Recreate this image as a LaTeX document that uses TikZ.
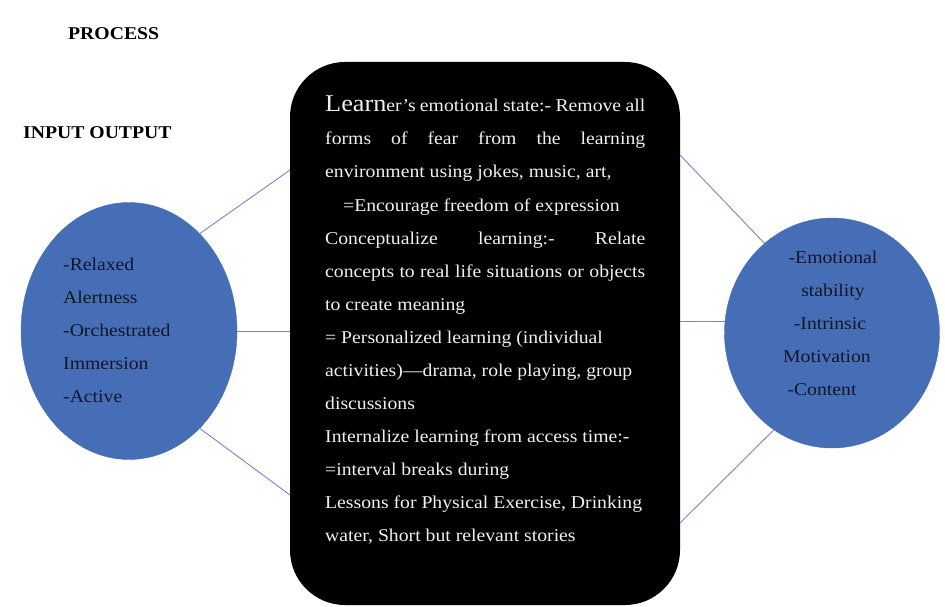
\documentclass[tikz,border=0pt]{standalone}
\usepackage{fontspec}
\setmainfont[FakeStretch=1.095]{Liberation Serif}
\usetikzlibrary{shapes.geometric}
\definecolor{ellblue}{RGB}{70,110,183}
\definecolor{linkcol}{RGB}{125,128,205}
\definecolor{bodytext}{RGB}{240,240,240}
\definecolor{elltext}{RGB}{20,22,40}
\newcommand{\bodyfont}{\fontsize{18}{20}\selectfont}
\newcommand{\bigL}{\fontsize{24}{24}\selectfont}
\newcommand{\jline}[1]{\makebox[320pt][s]{#1}}
\begin{document}
\begin{tikzpicture}[x=1pt,y=-1pt,
  ovalnode/.style={ellipse, fill=ellblue, draw=ellblue, inner sep=0},
  procbox/.style={rectangle, fill=black, rounded corners=55pt, minimum width=390pt, minimum height=543pt, inner sep=0},
  link/.style={draw=linkcol, line width=0.9pt},
  bodyline/.style={anchor=base west, inner sep=0, text=bodytext, font=\bodyfont},
  ovaltext/.style={anchor=base west, inner sep=0, text=elltext, font=\bodyfont},
  ovaltextc/.style={anchor=base, inner sep=0, text=elltext, font=\bodyfont},
  heading/.style={anchor=base west, inner sep=0, font=\bodyfont\bfseries}]
\useasboundingbox (0,0) rectangle (945,607);
% shapes
\node[procbox] (proc) at (485,333.5) {};
\node[ovalnode, minimum width=216pt, minimum height=257pt] (inp) at (129,331) {};
\node[ovalnode, minimum width=215pt, minimum height=230pt] (outp) at (832,333) {};
% edge points on the process box
\coordinate (pL1) at (290,170);
\coordinate (pL3) at (290,495);
\coordinate (pR1) at (680,155);
\coordinate (pR3) at (680,523);
% connectors
\draw[link] (inp.54) -- (pL1);
\draw[link] (inp.east) -- (proc.west |- inp.east);
\draw[link] (inp.-54) -- (pL3);
\draw[link] (outp.127) -- (pR1);
\draw[link] (outp.174) -- (proc.east |- outp.174);
\draw[link] (outp.239) -- (pR3);
% headings
\node[heading] (hproc) at (68,40) {PROCESS};
\node[heading] (hio) at (23,139) {INPUT OUTPUT};
% process text
\node[bodyline] (t0) at (325,112) {\jline{{\bigL Learn}er’s emotional state:- Remove all}};
\node[bodyline] (t1) at (325,145) {\jline{forms of fear from the learning}};
\node[bodyline] (t2) at (325,178) {environment using jokes, music, art,};
\node[bodyline] (t3) at (343,211) {=Encourage freedom of expression};
\node[bodyline] (t4) at (325,244) {\jline{Conceptualize learning:- Relate}};
\node[bodyline] (t5) at (325,277) {\jline{concepts to real life situations or objects}};
\node[bodyline] (t6) at (325,310) {to create meaning};
\node[bodyline] (t7) at (325,343) {= Personalized learning (individual};
\node[bodyline] (t8) at (325,376) {activities)—drama, role playing, group};
\node[bodyline] (t9) at (325,409) {discussions};
\node[bodyline] (t10) at (325,442) {Internalize learning from access time:-};
\node[bodyline] (t11) at (325,475) {=interval breaks during};
\node[bodyline] (t12) at (325,508) {Lessons for Physical Exercise, Drinking};
\node[bodyline] (t13) at (325,541) {water, Short but relevant stories};
% input text
\node[ovaltext] (i1) at (63,270) {-Relaxed};
\node[ovaltext] (i2) at (63,303) {Alertness};
\node[ovaltext] (i3) at (63,336) {-Orchestrated};
\node[ovaltext] (i4) at (63,369) {Immersion};
\node[ovaltext] (i5) at (63,402) {-Active};
% output text
\node[ovaltextc] (o1) at (833,263) {-Emotional};
\node[ovaltextc] (o2) at (833,296) {stability};
\node[ovaltextc] (o3) at (830,329) {-Intrinsic};
\node[ovaltextc] (o4) at (827,362) {Motivation};
\node[ovaltextc] (o5) at (822,395) {-Content};
\end{tikzpicture}
\end{document}
